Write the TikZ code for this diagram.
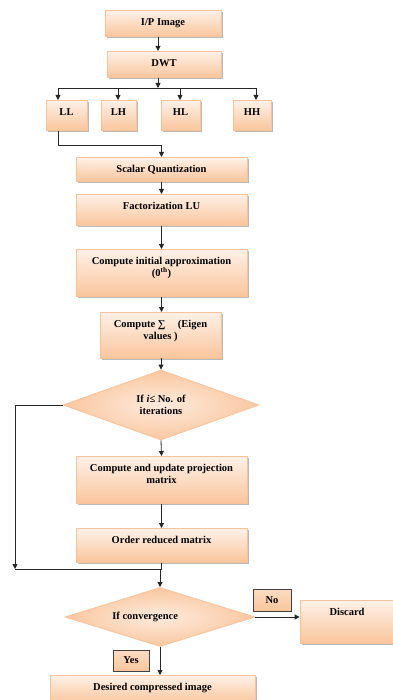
\documentclass[tikz,border=0pt]{standalone}
\usepackage{fontspec}
\setmainfont{Liberation Serif}
\usetikzlibrary{arrows.meta,shapes.geometric,shadows}

\definecolor{boxtop}{HTML}{FEF1E8}
\definecolor{boxbot}{HTML}{F9C59C}
\definecolor{boxline}{HTML}{F7C39B}
\definecolor{diain}{HTML}{FDEBDD}
\definecolor{diaout}{HTML}{FAC7A0}

% two centred lines, baseline on the first one
\newcommand{\twolines}[2]{\vtop{\halign{\hfil##\hfil\cr#1\cr#2\cr}}}

\tikzset{
  box/.style={draw=boxline, line width=0.8pt, top color=boxtop, bottom color=boxbot,
    drop shadow={shadow xshift=1.5pt, shadow yshift=-1.5pt, fill=black!45, opacity=.6},
    font=\fontsize{10.5}{12}\selectfont\bfseries, anchor=north,
    inner xsep=0pt, inner ysep=0pt, text height=15pt},
  decision/.style={diamond, aspect=3, draw=boxline, line width=0.8pt, inner color=diain, outer color=diaout,
    font=\fontsize{10.5}{12}\selectfont\bfseries, align=center, inner sep=0pt},
  tag/.style={draw=black!75, line width=0.6pt, top color=boxbot!60, bottom color=boxbot,
    drop shadow={shadow xshift=1pt, shadow yshift=-1pt, fill=black!30, opacity=.4},
    font=\fontsize{10.5}{12}\selectfont\bfseries, inner sep=0pt},
  flow/.style={-{Triangle[length=5pt,width=5pt]}, line width=0.8pt, black!85},
  plain/.style={line width=0.8pt, black!85}
}

\begin{document}
\begin{tikzpicture}[x=1pt, y=-1pt]
        \useasboundingbox (0,0) rectangle (392,700);

        \node[box, minimum width=116, text depth=11pt] (ip) at (163,10) {I/P Image};
        \node[box, minimum width=114, text depth=11pt] (dwt) at (164,51) {DWT};
        \node[box, minimum width=41, text depth=15pt] (ll) at (66.5,100) {LL};
        \node[box, minimum width=35, text depth=15pt] (lh) at (118.5,100) {LH};
        \node[box, minimum width=39, text depth=15pt] (hl) at (180.5,100) {HL};
        \node[box, minimum width=38, text depth=15pt] (hh) at (252,100) {HH};
        \node[box, minimum width=171, text depth=9pt] (sq) at (161.5,157) {Scalar Quantization};
        \node[box, minimum width=171, text depth=16pt] (lu) at (161.5,194) {Factorization LU};
        \node[box, minimum width=171, text depth=32pt] (init) at (161.5,249)
            {\twolines{Compute initial approximation}{(0\textsuperscript{th})}};
        \node[box, minimum width=121, text depth=31pt] (sig) at (160.5,312)
            {\twolines{Compute ∑\hspace{1.2em}(Eigen}{values )}};
        \node[decision, minimum width=196, minimum height=70] (iter) at (161,405)
            {If \textit{i}≤ No. of\\iterations};
        \node[box, minimum width=171, text depth=32pt] (upd) at (161.5,456)
            {\twolines{Compute and update projection}{matrix}};
        \node[box, minimum width=171, text depth=19pt] (ord) at (161.5,528) {Order reduced matrix};
        \node[decision, minimum width=190, minimum height=59] (conv) at (160,617)
            {If convergence\phantom{MMM}};
        \node[box, minimum width=94, text depth=28pt] (disc) at (347,600) {Discard};
        \node[box, minimum width=205, text depth=13pt] (des) at (152.5,675) {Desired compressed image};
        \node[tag, minimum width=38, minimum height=22] (no) at (272,600) {No};
        \node[tag, minimum width=36, minimum height=21] (yes) at (131,660.5) {Yes};

        % DWT bands
        \coordinate (bus) at (158,88);
        \draw[flow] (ip.south -| bus) -- (dwt.north -| bus);
        \draw[flow] (dwt.south -| bus) -- (bus);
        \draw[plain] (58,88) -- (256,88);
        \foreach \n/\x in {ll/58, lh/118, hl/180, hh/256} {
            \coordinate (b\n) at (\x,88);
            \draw[flow] (b\n) -- (b\n |- \n.north);
        }
        \coordinate (join) at (161.5,145);
        \draw[flow] ([xshift=-8.5pt]ll.south) |- (join) -- (sq.north);

        % main chain
        \draw[flow] (sq.south) -- (lu.north);
        \draw[flow] (lu.south) -- (init.north);
        \draw[flow] (init.south) -- (init.south |- sig.north);
        \draw[flow] (sig.south) -- (sig.south -| iter.north) -- (iter.north);
        \draw[flow] (iter.south) -- (upd.north);
        \draw[flow] (upd.south) -- (ord.north);

        % loop back
        \coordinate (back) at (15,569);
        \draw[flow] (iter.west) -| (back);
        \draw[plain] (back) -- (back -| conv.north);
        \draw[plain] (ord.south) -- (ord.south |- back) -- (back -| conv.north);
        \draw[flow] (back -| conv.north) -- (conv.north);

        \draw[flow] (conv.east) -- (conv.east -| disc.west);
        \draw[flow] (conv.south) -- (conv.south |- des.north);
\end{tikzpicture}
\end{document}
